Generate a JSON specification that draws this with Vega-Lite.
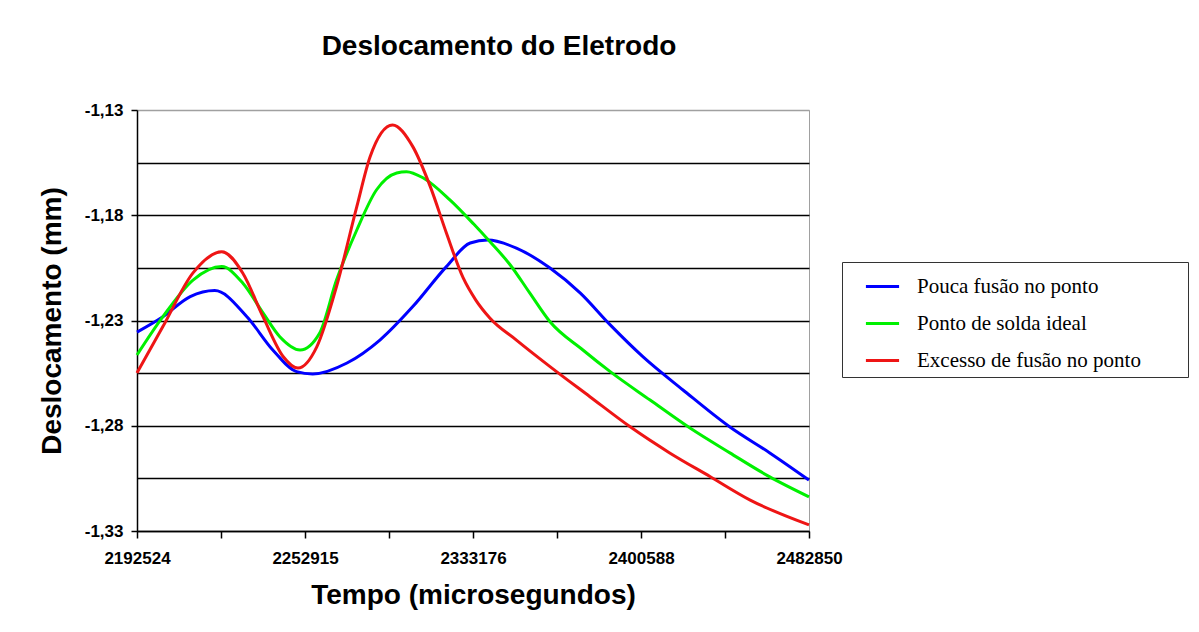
{
  "$schema": "https://vega.github.io/schema/vega-lite/v6.json",
  "autosize": "none",
  "width": 672,
  "height": 421,
  "padding": {"left": 137, "top": 110, "right": 390, "bottom": 101},
  "background": "white",
  "title": {
    "text": "Deslocamento do Eletrodo",
    "font": "Liberation Sans",
    "fontSize": 28,
    "fontWeight": "bold",
    "color": "black",
    "anchor": "middle",
    "dx": 26,
    "offset": 40
  },
  "config": {
    "view": {"stroke": "#a0a0a0", "strokeWidth": 1},
    "axis": {"labelFont": "Liberation Sans", "titleFont": "Liberation Sans", "labelColor": "black", "titleColor": "black"}
  },
  "data": {
    "values": [
      {"i": 0, "v": -1.2355, "s": "Pouca fusão no ponto"},
      {"i": 3.7, "v": -1.2282, "s": "Pouca fusão no ponto"},
      {"i": 7.6, "v": -1.2187, "s": "Pouca fusão no ponto"},
      {"i": 11.1, "v": -1.2158, "s": "Pouca fusão no ponto"},
      {"i": 15.7, "v": -1.2282, "s": "Pouca fusão no ponto"},
      {"i": 19.4, "v": -1.244, "s": "Pouca fusão no ponto"},
      {"i": 22.8, "v": -1.2543, "s": "Pouca fusão no ponto"},
      {"i": 25.1, "v": -1.2554, "s": "Pouca fusão no ponto"},
      {"i": 30, "v": -1.2502, "s": "Pouca fusão no ponto"},
      {"i": 34.7, "v": -1.2393, "s": "Pouca fusão no ponto"},
      {"i": 39.4, "v": -1.2234, "s": "Pouca fusão no ponto"},
      {"i": 44.2, "v": -1.2044, "s": "Pouca fusão no ponto"},
      {"i": 47.6, "v": -1.1932, "s": "Pouca fusão no ponto"},
      {"i": 50.1, "v": -1.1918, "s": "Pouca fusão no ponto"},
      {"i": 54.2, "v": -1.1956, "s": "Pouca fusão no ponto"},
      {"i": 59, "v": -1.2051, "s": "Pouca fusão no ponto"},
      {"i": 63.3, "v": -1.2169, "s": "Pouca fusão no ponto"},
      {"i": 67.6, "v": -1.2321, "s": "Pouca fusão no ponto"},
      {"i": 72.3, "v": -1.2473, "s": "Pouca fusão no ponto"},
      {"i": 78, "v": -1.263, "s": "Pouca fusão no ponto"},
      {"i": 84.7, "v": -1.2806, "s": "Pouca fusão no ponto"},
      {"i": 90.4, "v": -1.2929, "s": "Pouca fusão no ponto"},
      {"i": 96, "v": -1.3058, "s": "Pouca fusão no ponto"},

      {"i": 0, "v": -1.2464, "s": "Ponto de solda ideal"},
      {"i": 3.7, "v": -1.2282, "s": "Ponto de solda ideal"},
      {"i": 8, "v": -1.2108, "s": "Ponto de solda ideal"},
      {"i": 12.1, "v": -1.2044, "s": "Ponto de solda ideal"},
      {"i": 15.1, "v": -1.2122, "s": "Ponto de solda ideal"},
      {"i": 18, "v": -1.2264, "s": "Ponto de solda ideal"},
      {"i": 20.4, "v": -1.2377, "s": "Ponto de solda ideal"},
      {"i": 23.3, "v": -1.244, "s": "Ponto de solda ideal"},
      {"i": 26.1, "v": -1.2359, "s": "Ponto de solda ideal"},
      {"i": 28.5, "v": -1.2108, "s": "Ponto de solda ideal"},
      {"i": 31.4, "v": -1.187, "s": "Ponto de solda ideal"},
      {"i": 34.2, "v": -1.168, "s": "Ponto de solda ideal"},
      {"i": 37.1, "v": -1.1599, "s": "Ponto de solda ideal"},
      {"i": 38.5, "v": -1.1593, "s": "Ponto de solda ideal"},
      {"i": 40.9, "v": -1.1623, "s": "Ponto de solda ideal"},
      {"i": 44.7, "v": -1.1727, "s": "Ponto de solda ideal"},
      {"i": 48.1, "v": -1.1842, "s": "Ponto de solda ideal"},
      {"i": 50.4, "v": -1.1925, "s": "Ponto de solda ideal"},
      {"i": 53.3, "v": -1.2035, "s": "Ponto de solda ideal"},
      {"i": 56.1, "v": -1.2169, "s": "Ponto de solda ideal"},
      {"i": 59, "v": -1.2306, "s": "Ponto de solda ideal"},
      {"i": 63.7, "v": -1.244, "s": "Ponto de solda ideal"},
      {"i": 67.6, "v": -1.2543, "s": "Ponto de solda ideal"},
      {"i": 73.3, "v": -1.2678, "s": "Ponto de solda ideal"},
      {"i": 79, "v": -1.2811, "s": "Ponto de solda ideal"},
      {"i": 84.7, "v": -1.2929, "s": "Ponto de solda ideal"},
      {"i": 90.4, "v": -1.3043, "s": "Ponto de solda ideal"},
      {"i": 96, "v": -1.3138, "s": "Ponto de solda ideal"},

      {"i": 0, "v": -1.2549, "s": "Excesso de fusão no ponto"},
      {"i": 3.7, "v": -1.2329, "s": "Excesso de fusão no ponto"},
      {"i": 8, "v": -1.2074, "s": "Excesso de fusão no ponto"},
      {"i": 12.1, "v": -1.1973, "s": "Excesso de fusão no ponto"},
      {"i": 15.1, "v": -1.2074, "s": "Excesso de fusão no ponto"},
      {"i": 18, "v": -1.2282, "s": "Excesso de fusão no ponto"},
      {"i": 20.9, "v": -1.2472, "s": "Excesso de fusão no ponto"},
      {"i": 23, "v": -1.2526, "s": "Excesso de fusão no ponto"},
      {"i": 25.7, "v": -1.2424, "s": "Excesso de fusão no ponto"},
      {"i": 28.5, "v": -1.2139, "s": "Excesso de fusão no ponto"},
      {"i": 31.4, "v": -1.1759, "s": "Excesso de fusão no ponto"},
      {"i": 33.3, "v": -1.1522, "s": "Excesso de fusão no ponto"},
      {"i": 36.5, "v": -1.1371, "s": "Excesso de fusão no ponto"},
      {"i": 39.4, "v": -1.1474, "s": "Excesso de fusão no ponto"},
      {"i": 41.9, "v": -1.1664, "s": "Excesso de fusão no ponto"},
      {"i": 44.2, "v": -1.1884, "s": "Excesso de fusão no ponto"},
      {"i": 46.6, "v": -1.2098, "s": "Excesso de fusão no ponto"},
      {"i": 48.4, "v": -1.2203, "s": "Excesso de fusão no ponto"},
      {"i": 50.4, "v": -1.2288, "s": "Excesso de fusão no ponto"},
      {"i": 54.2, "v": -1.2393, "s": "Excesso de fusão no ponto"},
      {"i": 59, "v": -1.2519, "s": "Excesso de fusão no ponto"},
      {"i": 64.7, "v": -1.2662, "s": "Excesso de fusão no ponto"},
      {"i": 70.4, "v": -1.2804, "s": "Excesso de fusão no ponto"},
      {"i": 76.1, "v": -1.2929, "s": "Excesso de fusão no ponto"},
      {"i": 81.9, "v": -1.3042, "s": "Excesso de fusão no ponto"},
      {"i": 87.6, "v": -1.3153, "s": "Excesso de fusão no ponto"},
      {"i": 96, "v": -1.3271, "s": "Excesso de fusão no ponto"}
    ]
  },
  "mark": {"type": "line", "interpolate": "monotone", "strokeWidth": 3},
  "encoding": {
    "x": {
      "field": "i",
      "type": "quantitative",
      "scale": {"domain": [0, 96], "nice": false, "zero": false},
      "axis": {
        "title": "Tempo (microsegundos)",
        "titleFontSize": 28,
        "titleFontWeight": "bold",
        "titlePadding": 15,
        "values": [0, 12, 24, 36, 48, 60, 72, 84, 96],
        "labelExpr": "datum.value == 0 ? '2192524' : datum.value == 24 ? '2252915' : datum.value == 48 ? '2333176' : datum.value == 72 ? '2400588' : datum.value == 96 ? '2482850' : ''",
        "labelFontSize": 17,
        "labelFontWeight": "bold",
        "labelPadding": 12,
        "labelOverlap": false,
        "labelFlush": false,
        "grid": false,
        "domainColor": "black",
        "domainWidth": 1.5,
        "tickColor": "black",
        "tickSize": 7,
        "tickWidth": 1.5
      }
    },
    "y": {
      "field": "v",
      "type": "quantitative",
      "scale": {"domain": [-1.33, -1.13], "nice": false, "zero": false},
      "axis": {
        "title": "Deslocamento (mm)",
        "titleFontSize": 28,
        "titleFontWeight": "bold",
        "titlePadding": 18,
        "values": [-1.33, -1.305, -1.28, -1.255, -1.23, -1.205, -1.18, -1.155, -1.13],
        "labelExpr": "abs(round((datum.value + 1.33) * 40)) % 2 == 1 ? '' : replace(replace(format(datum.value, '.2f'), '.', ','), '\u2212', '-')",
        "labelFontSize": 17,
        "labelFontWeight": "bold",
        "labelPadding": 8,
        "grid": true,
        "gridColor": {"condition": {"test": "datum.value > -1.131", "value": "#a0a0a0"}, "value": "black"},
        "gridWidth": 1.3,
        "gridOpacity": 1,
        "domainColor": "black",
        "domainWidth": 1.5,
        "tickColor": "black",
        "tickSize": 6,
        "tickWidth": 1.5,
        "tickOpacity": {"condition": {"test": "abs(round((datum.value + 1.33) * 40)) % 2 == 1", "value": 0}, "value": 1}
      }
    },
    "color": {
      "field": "s",
      "type": "nominal",
      "sort": ["Pouca fusão no ponto", "Ponto de solda ideal", "Excesso de fusão no ponto"],
      "scale": {
        "domain": ["Pouca fusão no ponto", "Ponto de solda ideal", "Excesso de fusão no ponto"],
        "range": ["#0000FF", "#00F000", "#EE1515"]
      },
      "legend": {
        "title": "\u00a0",
        "titleOrient": "right",
        "titlePadding": 41,
        "orient": "none",
        "legendX": 705,
        "legendY": 152,
        "padding": 6,
        "strokeColor": "#333333",
        "fillColor": "white",
        "symbolType": "stroke",
        "symbolSize": 1100,
        "symbolStrokeWidth": 3,
        "symbolOffset": 16,
        "labelOffset": 16,
        "rowPadding": 8,
        "labelFont": "Liberation Serif",
        "labelFontSize": 21,
        "labelColor": "black",
        "labelLimit": 400
      }
    }
  }
}
